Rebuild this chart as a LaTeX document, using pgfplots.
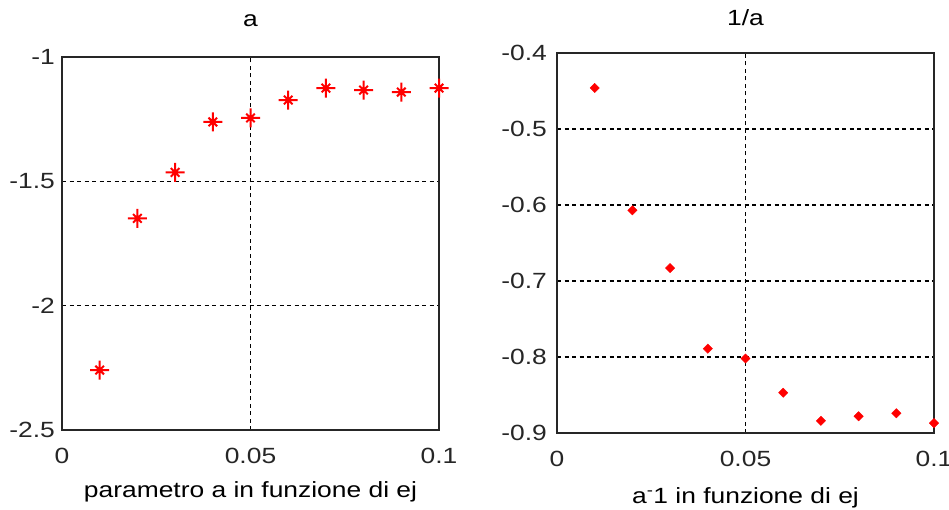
\documentclass[border=0pt]{standalone}
\usepackage{pgfplots}
\pgfplotsset{compat=1.18}
\usepackage{fontspec}
\setmainfont{Liberation Sans}[FakeStretch=1.2]

% MATLAB-style asterisk: plus with shorter diagonals
\pgfdeclareplotmark{mstar}{%
  \pgfpathmoveto{\pgfqpoint{-\pgfplotmarksize}{0pt}}%
  \pgfpathlineto{\pgfqpoint{\pgfplotmarksize}{0pt}}%
  \pgfpathmoveto{\pgfqpoint{0pt}{-\pgfplotmarksize}}%
  \pgfpathlineto{\pgfqpoint{0pt}{\pgfplotmarksize}}%
  \pgfpathmoveto{\pgfqpoint{-0.45\pgfplotmarksize}{-0.45\pgfplotmarksize}}%
  \pgfpathlineto{\pgfqpoint{0.45\pgfplotmarksize}{0.45\pgfplotmarksize}}%
  \pgfpathmoveto{\pgfqpoint{-0.45\pgfplotmarksize}{0.45\pgfplotmarksize}}%
  \pgfpathlineto{\pgfqpoint{0.45\pgfplotmarksize}{-0.45\pgfplotmarksize}}%
  \pgfusepathqstroke
}

\pgfplotsset{
  mlab/.style={
    scale only axis,
    axis line style={line width=1.5pt, black!85},
    xmin=0, xmax=0.1,
    xtick={0,0.05,0.1},
    xticklabels={0,0.05,0.1},
    major tick length=0pt,
    grid=major,
    major grid style={black, line width=1.2pt, dash pattern=on 4pt off 3.5pt},
    tick label style={font=\fontsize{22}{24}\selectfont, text=black!85},
    xticklabel style={anchor=base, yshift=-33pt},
    yticklabel style={anchor=east, inner sep=0pt},
    title style={font=\fontsize{22}{24}\selectfont, anchor=base, at={(0.5,1)}},
    xlabel style={font=\fontsize{22}{24}\selectfont, anchor=base, at={(0.5,0)}},
    /pgf/number format/assume math mode=true,
  }
}

\begin{document}
\begin{tikzpicture}
\useasboundingbox (0pt,0pt) rectangle (949pt,-510pt);

% left panel: parameter a
\begin{axis}[mlab,
  at={(62pt,-430pt)}, anchor=south west,
  width=377pt, height=373pt,
  ymin=-2.5, ymax=-1,
  ytick={-2.5,-2,-1.5,-1},
  yticklabels={-2.5,-2,-1.5,-1},
  yticklabel style={xshift=-7pt},
  title={a}, title style={yshift=24pt},
  xlabel={parametro a in funzione di ej}, xlabel style={yshift=-67pt},
]
\addplot[only marks, mark=mstar, mark size=9.5pt, red, line width=2pt] coordinates {
  (0.01,-2.259) (0.02,-1.649) (0.03,-1.464) (0.04,-1.261) (0.05,-1.245)
  (0.06,-1.173) (0.07,-1.125) (0.08,-1.133) (0.09,-1.141) (0.10,-1.125)
};
\end{axis}

% right panel: 1/a
\begin{axis}[mlab,
  at={(557pt,-433pt)}, anchor=south west,
  width=377pt, height=380pt,
  ymin=-0.9, ymax=-0.4,
  ytick={-0.9,-0.8,-0.7,-0.6,-0.5,-0.4},
  yticklabels={-0.9,-0.8,-0.7,-0.6,-0.5,-0.4},
  yticklabel style={xshift=-10pt},
  title={1/a}, title style={yshift=21pt},
  xlabel={a\textsuperscript{-}1 in funzione di ej}, xlabel style={yshift=-70pt},
]
\addplot[only marks, mark=square*, mark size=3.3pt, red,
         mark options={rotate=45, fill=red, draw=red}] coordinates {
  (0.01,-0.446) (0.02,-0.607) (0.03,-0.683) (0.04,-0.789) (0.05,-0.802)
  (0.06,-0.847) (0.07,-0.884) (0.08,-0.878) (0.09,-0.874) (0.10,-0.887)
};
\end{axis}
\end{tikzpicture}
\end{document}
